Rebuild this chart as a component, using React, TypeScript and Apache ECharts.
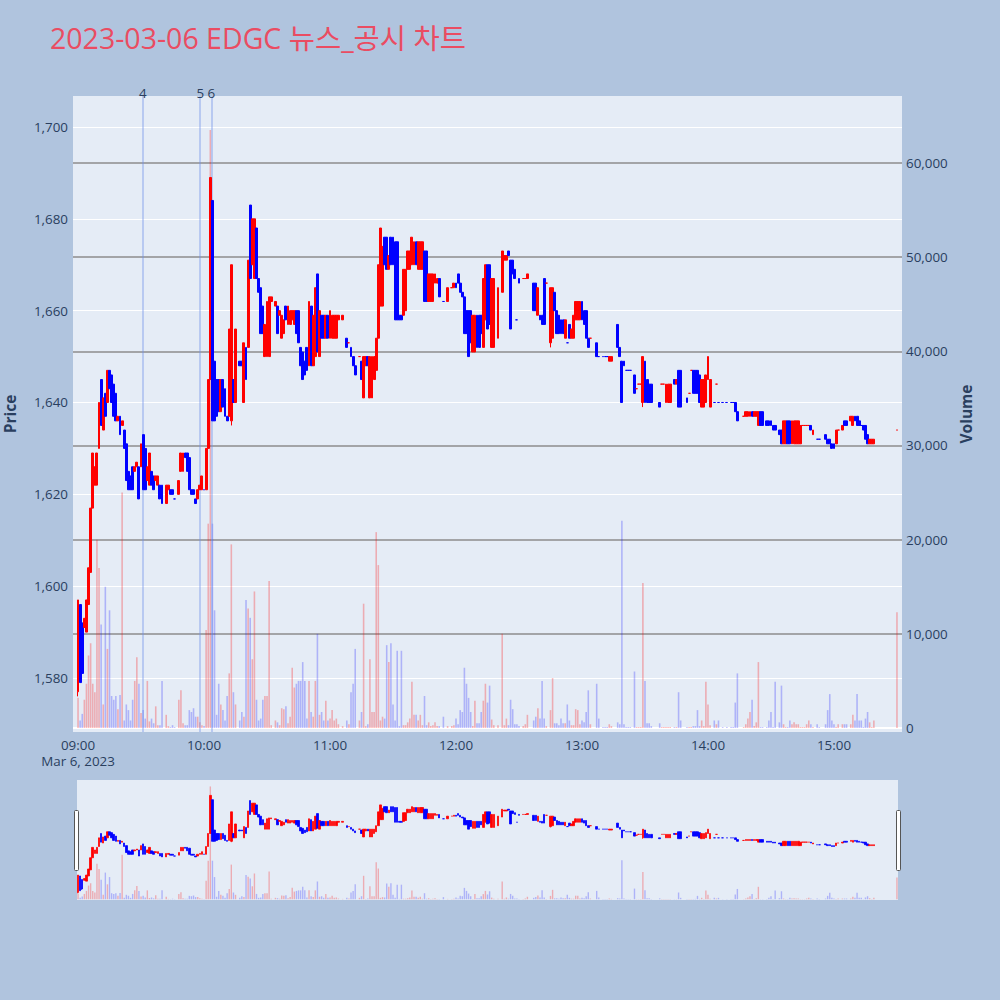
import React, { useEffect, useRef } from 'react';
import * as echarts from 'echarts';

// [minute after 09:00, open, close, low, high, volume]
type Bar = [number, number, number, number, number, number];

const bars0900: Bar[] = [
  [0, 1577, 1597, 1576, 1597, 3200], [1, 1596, 1579, 1579, 1596, 800], [2, 1592, 1581, 1580, 1592, 1500],
  [3, 1591, 1593, 1591, 1593, 3000], [4, 1590, 1597, 1590, 1597, 4700], [5, 1596, 1604, 1596, 1604, 7700],
  [6, 1603, 1617, 1603, 1617, 9000], [7, 1617, 1629, 1617, 1629, 4700], [8, 1622, 1626, 1622, 1626, 3800],
  [9, 1622, 1629, 1622, 1629, 20000], [10, 1630, 1640, 1630, 1640, 17000], [11, 1645, 1635, 1635, 1645, 11000],
  [12, 1634, 1641, 1634, 1641, 2500], [13, 1642, 1637, 1637, 1642, 15000], [14, 1640, 1647, 1640, 1647, 8400],
  [15, 1647, 1643, 1643, 1647, 12500], [16, 1646, 1640, 1640, 1646, 3400], [17, 1644, 1637, 1637, 1644, 3000],
  [18, 1642, 1636, 1636, 1642, 3400], [19, 1636, 1637, 1636, 1637, 2000], [20, 1637, 1633, 1633, 1637, 3500],
  [21, 1635, 1636, 1635, 1636, 25000], [22, 1634, 1630, 1630, 1634, 800], [23, 1631, 1623, 1623, 1631, 2500],
  [24, 1625, 1621, 1621, 1625, 1900], [25, 1624, 1621, 1621, 1624, 800], [26, 1626, 1621, 1621, 1626, 3000],
  [27, 1625, 1626, 1625, 1626, 5000], [28, 1626, 1627, 1626, 1627, 7500], [29, 1626, 1619, 1619, 1626, 4700],
  [30, 1626, 1631, 1626, 1631, 1600], [31, 1633, 1621, 1621, 1633, 1900], [32, 1630, 1621, 1621, 1630, 1000],
  [33, 1623, 1626, 1623, 1626, 5000], [34, 1622, 1629, 1622, 1629, 700], [35, 1625, 1622, 1622, 1625, 1000],
  [36, 1624, 1621, 1621, 1624, 500], [37, 1623, 1624, 1623, 1624, 2300], [38, 1622, 1624, 1622, 1624, 300],
  [39, 1622, 1619, 1619, 1622, 300], [40, 1622, 1618, 1618, 1622, 5000], [42, 1618, 1622, 1618, 1622, 1400],
  [43, 1621, 1622, 1621, 1622, 200], [44, 1621, 1620, 1620, 1621, 100], [45, 1621, 1620, 1620, 1621, 300],
  [46, 1619, 1619, 1619, 1619, 100], [48, 1620, 1623, 1620, 1623, 3000], [49, 1625, 1629, 1625, 1629, 4000],
  [50, 1625, 1629, 1625, 1629, 500], [51, 1629, 1628, 1628, 1629, 300], [52, 1629, 1625, 1625, 1629, 300],
  [53, 1628, 1621, 1621, 1628, 1900], [54, 1621, 1620, 1620, 1621, 1700], [55, 1621, 1620, 1620, 1621, 2100],
  [56, 1619, 1618, 1618, 1619, 1200], [57, 1619, 1621, 1619, 1621, 1200], [58, 1621, 1622, 1621, 1622, 600],
  [59, 1621, 1624, 1621, 1624, 300],
];

const bars1000: Bar[] = [
  [60, 1621, 1621, 1621, 1621, 200], [61, 1621, 1630, 1621, 1630, 10400], [62, 1630, 1645, 1630, 1645, 21700],
  [63, 1645, 1689, 1645, 1689, 63500], [64, 1684, 1636, 1636, 1684, 21700], [65, 1649, 1636, 1636, 1649, 12500],
  [66, 1645, 1637, 1637, 1645, 1400], [67, 1645, 1638, 1638, 1645, 4700], [68, 1638, 1645, 1638, 1645, 2500],
  [69, 1645, 1639, 1639, 1645, 1900], [70, 1643, 1637, 1637, 1643, 800], [71, 1637, 1636, 1636, 1637, 3400],
  [72, 1637, 1656, 1637, 1656, 5800], [73, 1636, 1670, 1635, 1670, 19500], [74, 1645, 1640, 1640, 1645, 3800],
  [75, 1640, 1656, 1640, 1656, 2500], [77, 1649, 1648, 1648, 1649, 800], [78, 1649, 1648, 1648, 1649, 1700],
  [79, 1640, 1653, 1640, 1653, 1200], [80, 1652, 1645, 1645, 1652, 13600], [81, 1652, 1671, 1652, 1671, 12700],
  [82, 1683, 1667, 1667, 1683, 11700], [83, 1670, 1680, 1670, 1680, 7300], [84, 1667, 1680, 1667, 1680, 14500],
  [85, 1678, 1667, 1667, 1678, 3000], [86, 1667, 1664, 1664, 1667, 800], [87, 1665, 1655, 1655, 1665, 1000],
  [88, 1661, 1655, 1655, 1661, 3000], [89, 1650, 1657, 1650, 1657, 3400], [90, 1650, 1662, 1650, 1662, 3400],
  [91, 1650, 1663, 1650, 1663, 15600], [92, 1662, 1663, 1662, 1663, 300], [94, 1661, 1662, 1661, 1662, 800],
  [95, 1661, 1655, 1655, 1661, 600], [96, 1659, 1660, 1659, 1660, 300], [97, 1654, 1659, 1654, 1659, 2100],
  [98, 1655, 1658, 1655, 1658, 2000], [99, 1661, 1658, 1658, 1661, 2300], [100, 1657, 1661, 1657, 1661, 500],
  [101, 1657, 1660, 1657, 1660, 1200], [102, 1658, 1660, 1658, 1660, 6400], [103, 1657, 1660, 1657, 1660, 4300],
  [104, 1660, 1655, 1655, 1660, 4700], [105, 1660, 1653, 1653, 1660, 5000], [106, 1652, 1648, 1648, 1652, 5000],
  [107, 1651, 1645, 1645, 1651, 7000], [108, 1649, 1646, 1646, 1649, 5000], [109, 1652, 1647, 1647, 1652, 1000],
  [110, 1648, 1662, 1648, 1662, 5000], [111, 1661, 1648, 1648, 1661, 1700], [112, 1648, 1659, 1648, 1659, 1200],
  [113, 1650, 1665, 1650, 1665, 5000], [114, 1668, 1651, 1651, 1668, 10000], [115, 1650, 1660, 1650, 1660, 1400],
  [116, 1659, 1654, 1654, 1659, 1700], [117, 1659, 1654, 1654, 1659, 800], [118, 1654, 1659, 1654, 1659, 2900],
  [119, 1659, 1654, 1654, 1659, 800],
];

const bars1100: Bar[] = [
  [120, 1654, 1660, 1654, 1660, 1000], [121, 1654, 1659, 1654, 1659, 1900], [122, 1654, 1659, 1654, 1659, 800],
  [123, 1654, 1659, 1654, 1659, 1000], [124, 1658, 1659, 1658, 1659, 400], [126, 1658, 1659, 1658, 1659, 200],
  [128, 1654, 1652, 1652, 1654, 800], [129, 1653, 1653, 1653, 1653, 400], [130, 1652, 1650, 1650, 1652, 3800],
  [131, 1650, 1648, 1648, 1650, 4700], [132, 1648, 1646, 1646, 1648, 8400], [134, 1650, 1650, 1650, 1650, 800],
  [135, 1649, 1645, 1645, 1649, 1700], [136, 1641, 1650, 1641, 1650, 13200], [137, 1648, 1650, 1648, 1650, 200],
  [138, 1650, 1648, 1648, 1650, 400], [139, 1641, 1650, 1641, 1650, 7300], [140, 1641, 1650, 1641, 1650, 1700],
  [141, 1645, 1650, 1645, 1650, 1700], [142, 1647, 1654, 1647, 1654, 20800], [143, 1654, 1670, 1654, 1670, 17300],
  [144, 1661, 1678, 1661, 1678, 800], [145, 1661, 1674, 1661, 1674, 1200], [146, 1676, 1670, 1670, 1676, 1000],
  [147, 1676, 1669, 1669, 1676, 8800], [148, 1669, 1672, 1669, 1672, 7000], [149, 1676, 1670, 1670, 1676, 9000],
  [150, 1676, 1670, 1670, 1676, 2500], [151, 1675, 1658, 1658, 1675, 800], [152, 1675, 1658, 1658, 1675, 8200],
  [153, 1659, 1658, 1658, 1659, 200], [154, 1659, 1658, 1658, 1659, 8200], [155, 1659, 1669, 1659, 1669, 300],
  [156, 1660, 1669, 1660, 1669, 300], [157, 1669, 1673, 1669, 1673, 600], [158, 1669, 1673, 1669, 1673, 1000],
  [159, 1670, 1676, 1670, 1676, 4900], [160, 1670, 1675, 1670, 1675, 1400], [161, 1675, 1670, 1670, 1675, 1400],
  [162, 1669, 1675, 1669, 1675, 800], [163, 1669, 1675, 1669, 1675, 1400], [164, 1669, 1675, 1669, 1675, 300],
  [165, 1673, 1662, 1662, 1673, 3400], [166, 1673, 1662, 1662, 1673, 300], [167, 1662, 1668, 1662, 1668, 600],
  [168, 1662, 1668, 1662, 1668, 200], [169, 1662, 1668, 1662, 1668, 300], [170, 1666, 1668, 1666, 1668, 600],
  [171, 1666, 1667, 1666, 1667, 200], [172, 1667, 1663, 1663, 1667, 200], [174, 1662, 1662, 1662, 1662, 1200],
  [176, 1662, 1665, 1662, 1665, 200], [178, 1665, 1665, 1665, 1665, 200], [179, 1665, 1666, 1665, 1666, 300],
];

const bars1200: Bar[] = [
  [180, 1666, 1665, 1665, 1666, 1000], [181, 1668, 1666, 1666, 1668, 400], [182, 1666, 1664, 1664, 1666, 1900],
  [183, 1664, 1663, 1663, 1664, 1700], [184, 1663, 1655, 1655, 1663, 6400], [185, 1660, 1655, 1655, 1660, 4700],
  [186, 1660, 1650, 1650, 1660, 3200], [187, 1660, 1653, 1653, 1660, 1700], [188, 1651, 1659, 1651, 1659, 200],
  [189, 1651, 1659, 1651, 1659, 2900], [190, 1659, 1652, 1652, 1659, 500], [191, 1659, 1652, 1652, 1659, 500],
  [192, 1659, 1655, 1655, 1659, 1700], [193, 1652, 1667, 1652, 1667, 2900], [194, 1658, 1670, 1658, 1670, 4700],
  [195, 1670, 1656, 1656, 1670, 2700], [196, 1670, 1657, 1657, 1670, 4500], [197, 1652, 1667, 1652, 1667, 900],
  [198, 1652, 1667, 1652, 1667, 300], [200, 1654, 1665, 1654, 1665, 300], [202, 1664, 1673, 1664, 1673, 10000],
  [203, 1671, 1672, 1671, 1672, 300], [204, 1671, 1672, 1671, 1672, 1000], [205, 1673, 1672, 1672, 1673, 300],
  [206, 1671, 1656, 1656, 1671, 3000], [207, 1671, 1668, 1668, 1671, 2000], [208, 1669, 1667, 1667, 1669, 400],
  [209, 1658, 1658, 1658, 1658, 400], [210, 1667, 1666, 1666, 1667, 200], [212, 1667, 1667, 1667, 1667, 200],
  [213, 1667, 1667, 1667, 1667, 400], [214, 1667, 1668, 1667, 1668, 1400], [217, 1666, 1660, 1660, 1666, 800],
  [218, 1666, 1660, 1660, 1666, 1200], [219, 1659, 1665, 1659, 1665, 2100], [220, 1659, 1658, 1658, 1659, 1000],
  [221, 1659, 1657, 1657, 1659, 5000], [222, 1667, 1657, 1657, 1667, 1000], [223, 1666, 1666, 1666, 1666, 200],
  [225, 1653, 1665, 1652, 1665, 1900], [226, 1654, 1665, 1654, 1665, 5300], [227, 1664, 1660, 1660, 1664, 500],
  [228, 1660, 1655, 1655, 1660, 500], [229, 1659, 1655, 1655, 1659, 300], [230, 1658, 1655, 1655, 1658, 1000],
  [231, 1658, 1655, 1655, 1658, 500], [232, 1654, 1658, 1654, 1658, 500], [233, 1653, 1653, 1653, 1653, 2500],
  [234, 1657, 1654, 1654, 1657, 800], [235, 1654, 1656, 1654, 1656, 300], [236, 1654, 1659, 1654, 1659, 300],
  [237, 1658, 1662, 1658, 1662, 2000], [238, 1658, 1662, 1658, 1662, 1900], [239, 1658, 1662, 1658, 1662, 400],
];

const bars1300: Bar[] = [
  [240, 1662, 1658, 1658, 1662, 800], [241, 1660, 1657, 1657, 1660, 600], [242, 1660, 1654, 1654, 1660, 1700],
  [243, 1654, 1652, 1652, 1654, 4000], [244, 1654, 1654, 1654, 1654, 400], [247, 1653, 1650, 1650, 1653, 4700],
  [248, 1650, 1650, 1650, 1650, 1000], [250, 1650, 1650, 1650, 1650, 100], [251, 1650, 1650, 1650, 1650, 100],
  [252, 1650, 1650, 1650, 1650, 100], [253, 1649, 1650, 1649, 1650, 400], [254, 1649, 1650, 1649, 1650, 200],
  [257, 1657, 1652, 1652, 1657, 600], [258, 1652, 1650, 1650, 1652, 400], [259, 1649, 1640, 1640, 1649, 22000],
  [260, 1649, 1648, 1648, 1649, 400], [261, 1647, 1647, 1647, 1647, 100], [262, 1647, 1647, 1647, 1647, 100],
  [263, 1647, 1647, 1647, 1647, 100], [265, 1646, 1642, 1642, 1646, 6000], [266, 1643, 1643, 1643, 1643, 100],
  [267, 1644, 1644, 1644, 1644, 100], [268, 1644, 1644, 1644, 1644, 100], [269, 1640, 1650, 1639, 1650, 15400],
  [270, 1649, 1640, 1640, 1649, 5000], [271, 1645, 1640, 1640, 1645, 500], [272, 1644, 1640, 1640, 1644, 500],
  [273, 1644, 1640, 1640, 1644, 200], [277, 1640, 1639, 1639, 1640, 500], [278, 1644, 1644, 1644, 1644, 100],
  [279, 1644, 1644, 1644, 1644, 100], [280, 1640, 1644, 1640, 1644, 100], [281, 1640, 1644, 1640, 1644, 100],
  [282, 1640, 1644, 1640, 1644, 100], [284, 1645, 1644, 1644, 1645, 100], [285, 1644, 1645, 1644, 1645, 100],
  [286, 1647, 1639, 1639, 1647, 3800], [287, 1647, 1639, 1639, 1647, 800], [290, 1641, 1640, 1640, 1641, 100],
  [291, 1642, 1642, 1642, 1642, 100], [292, 1647, 1647, 1647, 1647, 100], [293, 1647, 1642, 1642, 1647, 200],
  [294, 1647, 1642, 1642, 1647, 200], [295, 1647, 1642, 1642, 1647, 1900], [296, 1646, 1640, 1640, 1646, 200],
  [297, 1639, 1645, 1639, 1645, 800], [298, 1639, 1645, 1639, 1645, 200], [299, 1640, 1646, 1640, 1646, 4900],
];

const bars1400: Bar[] = [
  [300, 1645, 1650, 1645, 1650, 2500], [301, 1639, 1645, 1639, 1645, 300], [303, 1640, 1640, 1640, 1640, 800],
  [304, 1644, 1644, 1644, 1644, 400], [305, 1640, 1640, 1640, 1640, 800], [307, 1640, 1640, 1640, 1640, 100],
  [309, 1640, 1640, 1640, 1640, 100], [311, 1640, 1640, 1640, 1640, 100], [312, 1640, 1640, 1640, 1640, 100],
  [313, 1640, 1638, 1638, 1640, 2700], [314, 1638, 1636, 1636, 1638, 5800], [317, 1637, 1637, 1637, 1637, 100],
  [318, 1637, 1638, 1637, 1638, 400], [319, 1637, 1638, 1637, 1638, 1000], [320, 1637, 1638, 1637, 1638, 1700],
  [321, 1638, 1637, 1637, 1638, 3000], [322, 1637, 1638, 1637, 1638, 200], [323, 1637, 1638, 1637, 1638, 600],
  [324, 1635, 1638, 1635, 1638, 7000], [325, 1638, 1635, 1635, 1638, 100], [326, 1638, 1635, 1635, 1638, 100],
  [328, 1636, 1635, 1635, 1636, 100], [329, 1636, 1635, 1635, 1636, 800], [330, 1636, 1635, 1635, 1636, 1700],
  [331, 1635, 1634, 1634, 1635, 100], [332, 1635, 1634, 1634, 1635, 4900], [334, 1634, 1633, 1633, 1634, 600],
  [335, 1634, 1631, 1631, 1634, 4500], [336, 1631, 1636, 1631, 1636, 400], [337, 1631, 1636, 1631, 1636, 100],
  [338, 1636, 1631, 1631, 1636, 100], [339, 1636, 1631, 1631, 1636, 800], [340, 1631, 1636, 1631, 1636, 400],
  [341, 1631, 1636, 1631, 1636, 600], [342, 1631, 1636, 1631, 1636, 400], [343, 1631, 1636, 1631, 1636, 400],
  [344, 1631, 1635, 1631, 1635, 100], [345, 1635, 1635, 1635, 1635, 100], [346, 1635, 1635, 1635, 1635, 100],
  [347, 1635, 1635, 1635, 1635, 400], [348, 1635, 1635, 1635, 1635, 800], [349, 1635, 1634, 1634, 1635, 400],
  [350, 1633, 1634, 1633, 1634, 100], [352, 1632, 1632, 1632, 1632, 400], [353, 1632, 1632, 1632, 1632, 100],
  [356, 1633, 1632, 1632, 1633, 400], [357, 1632, 1631, 1631, 1632, 1900], [358, 1632, 1631, 1631, 1632, 3600],
  [359, 1631, 1630, 1630, 1631, 800],
];

const bars1500: Bar[] = [
  [360, 1631, 1630, 1630, 1631, 400], [361, 1631, 1634, 1631, 1634, 100], [362, 1634, 1634, 1634, 1634, 400],
  [364, 1634, 1635, 1634, 1635, 400], [365, 1636, 1635, 1635, 1636, 400], [366, 1636, 1635, 1635, 1636, 400],
  [368, 1636, 1637, 1636, 1637, 400], [369, 1635, 1637, 1635, 1637, 1400], [370, 1637, 1636, 1636, 1637, 800],
  [371, 1637, 1635, 1635, 1637, 3600], [372, 1636, 1635, 1635, 1636, 800], [373, 1635, 1635, 1635, 1635, 800],
  [374, 1635, 1634, 1634, 1635, 100], [375, 1635, 1632, 1632, 1635, 1000], [376, 1633, 1631, 1631, 1633, 1700],
  [377, 1631, 1632, 1631, 1632, 600], [378, 1631, 1632, 1631, 1632, 100], [379, 1631, 1632, 1631, 1632, 800],
  [390, 1634, 1634, 1634, 1634, 12300],
];

const hourTicks = [0, 60, 120, 180, 240, 300, 360];
const priceTicks = [1580, 1600, 1620, 1640, 1660, 1680, 1700];
const volumeTicks = [0, 10000, 20000, 30000, 40000, 50000, 60000];
const newsMinutes = [30.8, 58.2, 63.5];
const newsLabels = ['4', '5', '6'];
const titleText = '2023-03-06 EDGC 뉴스_공시 차트';
const sessionDate = 'Mar 6, 2023';

const PRICE_RANGE = [1568.24, 1706.75];
const VOLUME_RANGE = [-425, 67115];

const RED = '#ff0000';
const BLUE = '#0000ff';
const RED_VOL = 'rgba(255, 0, 0, 0.27)';
const BLUE_VOL = 'rgba(0, 0, 255, 0.24)';
const INK = '#2a3f5f';
const PLOT_BG = '#e5ecf6';
const FONT = '"Open Sans", "Noto Sans CJK KR", sans-serif';
const TICK_SIZE = 13.4;
const NAME_SIZE = 15.5;

const allBars: Bar[] = [...bars0900, ...bars1000, ...bars1100, ...bars1200, ...bars1300, ...bars1400, ...bars1500];

// Rising/falling per bar; a flat bar takes its trend from the previous close.
function trends(bars: Bar[]): boolean[] {
  let prevClose = bars[0][1];
  let prevUp = true;
  return bars.map(([, o, c]) => {
    let up: boolean;
    if (c > o) up = true;
    else if (c < o) up = false;
    else if (c > prevClose) up = true;
    else if (c < prevClose) up = false;
    else up = prevUp;
    prevClose = c;
    prevUp = up;
    return up;
  });
}

function clock(m: number): string {
  const h = 9 + Math.floor(m / 60);
  const mm = Math.round(m % 60);
  return `${String(h).padStart(2, '0')}:${String(mm).padStart(2, '0')}`;
}

function buildOption() {
  const up = trends(allBars);
  const candleData = allBars.map((b, i) => {
    const item: any = { value: [b[0], b[1], b[2], b[3], b[4]] };
    if (b[1] === b[2]) item.itemStyle = { borderColor: up[i] ? RED : BLUE, color: up[i] ? RED : BLUE };
    return item;
  });
  const volumeData = allBars.map((b, i) => ({
    value: [b[0], b[5]],
    itemStyle: { color: up[i] ? RED_VOL : BLUE_VOL },
  }));

  const candleStyle = {
    color: RED,
    color0: BLUE,
    borderColor: RED,
    borderColor0: BLUE,
    borderWidth: 1,
  };

  const noLabel = { show: false };

  return {
    animation: false,
    backgroundColor: '#b0c4de',
    textStyle: { fontFamily: FONT },
    title: {
      text: titleText,
      left: 50,
      top: 24,
      padding: 0,
      textStyle: { fontFamily: FONT, fontSize: 28.5, fontWeight: 'normal', color: '#ea4c62' },
    },
    grid: [
      {
        left: 73, top: 96, width: 829, height: 636, show: true, backgroundColor: PLOT_BG, borderWidth: 0,
        containLabel: false, outerBoundsMode: 'none',
      },
      {
        left: 77, top: 780, width: 821, height: 120, show: true, backgroundColor: PLOT_BG, borderWidth: 0,
        containLabel: false, outerBoundsMode: 'none',
      },
    ],
    xAxis: [
      {
        type: 'value', gridIndex: 0, min: -2.4, max: 392.4,
        axisLine: { show: false }, axisTick: { show: false }, splitLine: { show: false },
        axisLabel: {
          customValues: hourTicks,
          margin: 5,
          color: INK,
          fontSize: TICK_SIZE,
          lineHeight: 16,
          fontFamily: FONT,
          formatter: (v: number) => (v === 0 ? `${clock(v)}\n${sessionDate}` : clock(v)),
        },
      },
      { type: 'value', gridIndex: 1, min: -0.5, max: 390.5, show: false },
    ],
    yAxis: [
      {
        type: 'value', gridIndex: 0, position: 'left', min: PRICE_RANGE[0], max: PRICE_RANGE[1],
        axisLine: { show: false }, axisTick: { show: false }, splitLine: { show: false },
        axisLabel: {
          customValues: priceTicks, margin: 5, color: INK, fontSize: TICK_SIZE, fontFamily: FONT,
          formatter: (v: number) => v.toLocaleString('en-US'),
        },
        name: 'Price', nameLocation: 'middle', nameRotate: 90, nameGap: 55,
        nameTextStyle: { color: INK, fontSize: NAME_SIZE, fontWeight: 'bold', fontFamily: FONT },
      },
      {
        type: 'value', gridIndex: 0, position: 'right', min: VOLUME_RANGE[0], max: VOLUME_RANGE[1],
        axisLine: { show: false }, axisTick: { show: false }, splitLine: { show: false },
        axisLabel: {
          customValues: volumeTicks, margin: 4, color: INK, fontSize: TICK_SIZE, fontFamily: FONT,
          formatter: (v: number) => v.toLocaleString('en-US'),
        },
        name: 'Volume', nameLocation: 'middle', nameRotate: 90, nameGap: 56,
        nameTextStyle: { color: INK, fontSize: NAME_SIZE, fontWeight: 'bold', fontFamily: FONT },
      },
      { type: 'value', gridIndex: 1, min: PRICE_RANGE[0], max: PRICE_RANGE[1], show: false },
      { type: 'value', gridIndex: 1, min: VOLUME_RANGE[0], max: VOLUME_RANGE[1], show: false },
    ],
    series: [
      // price grid (white)
      {
        type: 'line', xAxisIndex: 0, yAxisIndex: 0, data: [], silent: true, z: 1,
        markLine: {
          z: 1, silent: true, symbol: ['none', 'none'], label: noLabel,
          lineStyle: { color: '#ffffff', width: 1, type: 'solid' },
          data: priceTicks.map((p) => ({ yAxis: p })),
        },
      },
      // volume grid (grey) with white zero line
      {
        type: 'line', xAxisIndex: 0, yAxisIndex: 1, data: [], silent: true, z: 1,
        markLine: {
          z: 1, silent: true, symbol: ['none', 'none'], label: noLabel,
          data: volumeTicks.map((v) => ({
            yAxis: v,
            lineStyle: v === 0 ? { color: '#ffffff', width: 2, type: 'solid' } : { color: '#8c8c8c', width: 1.5, type: 'solid' },
          })),
        },
      },
      {
        type: 'bar', xAxisIndex: 0, yAxisIndex: 1, data: volumeData, barWidth: 1.6, z: 2, silent: true,
      },
      // news markers
      {
        type: 'line', xAxisIndex: 0, yAxisIndex: 0, data: [], silent: true, z: 3,
        markLine: {
          z: 3, silent: true, symbol: ['none', 'none'],
          lineStyle: { color: 'rgba(110, 145, 235, 0.38)', width: 2, type: 'solid' },
          label: { show: true, position: 'end', distance: -4, color: INK, fontSize: TICK_SIZE, fontFamily: FONT },
          data: newsMinutes.map((m, i) => ({ xAxis: m, label: { formatter: newsLabels[i] } })),
        },
      },
      {
        type: 'candlestick', xAxisIndex: 0, yAxisIndex: 0, data: candleData, barWidth: 2.4, z: 4,
        itemStyle: candleStyle, silent: true, large: false,
      },
      // range overview strip
      {
        type: 'bar', xAxisIndex: 1, yAxisIndex: 3, data: volumeData, barWidth: 1.4, z: 2, silent: true,
      },
      {
        type: 'candlestick', xAxisIndex: 1, yAxisIndex: 2, data: candleData, barWidth: 2, z: 4,
        itemStyle: { ...candleStyle, borderWidth: 0.8 }, silent: true, large: false,
      },
    ],
    graphic: [
      { type: 'rect', left: 74, top: 810, shape: { width: 4, height: 60, r: 1 }, style: { fill: '#ffffff', stroke: '#555', lineWidth: 1 }, z: 10 },
      { type: 'rect', left: 896, top: 810, shape: { width: 4, height: 60, r: 1 }, style: { fill: '#ffffff', stroke: '#555', lineWidth: 1 }, z: 10 },
    ],
  };
}

export default function App() {
  const ref = useRef<HTMLDivElement>(null);
  useEffect(() => {
    if (!ref.current) return;
    const chart = echarts.init(ref.current, undefined, { renderer: 'svg' });
    chart.setOption(buildOption() as any);
    return () => chart.dispose();
  }, []);
  return <div ref={ref} style={{ position: 'fixed', left: 0, top: 0, width: 1000, height: 1000 }} />;
}
